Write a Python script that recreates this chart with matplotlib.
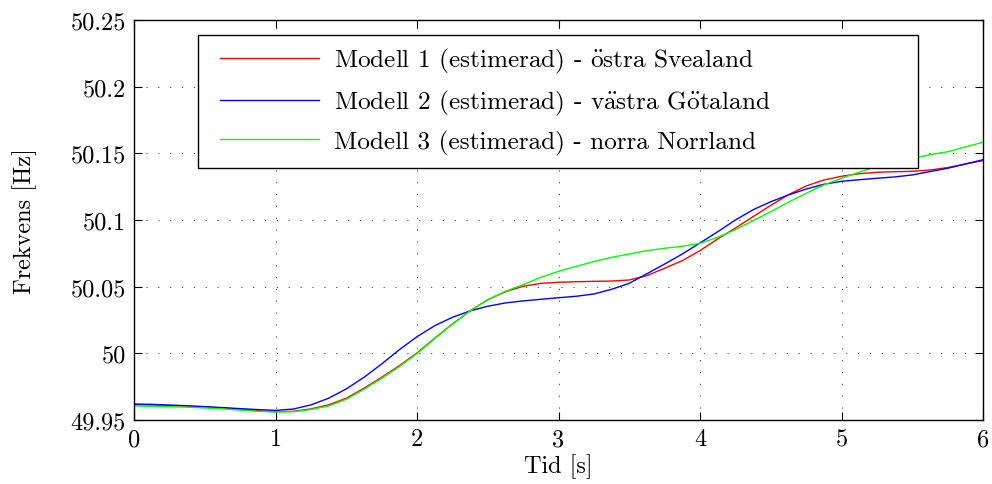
import matplotlib
matplotlib.use("Agg")
import matplotlib.pyplot as plt
from matplotlib.patches import Rectangle

plt.rcParams['font.family'] = ['cmr10', 'DejaVu Serif']
plt.rcParams['mathtext.fontset'] = 'cm'
plt.rcParams['axes.formatter.use_mathtext'] = True

# frequency response of the three estimated models, sampled every 0.125 s
tid = [0.0, 0.125, 0.25, 0.375, 0.5, 0.625, 0.75, 0.875,
       1.0, 1.125, 1.25, 1.375, 1.5, 1.625, 1.75, 1.875,
       2.0, 2.125, 2.25, 2.375, 2.5, 2.625, 2.75, 2.875,
       3.0, 3.125, 3.25, 3.375, 3.5, 3.625, 3.75, 3.875,
       4.0, 4.125, 4.25, 4.375, 4.5, 4.625, 4.75, 4.875,
       5.0, 5.125, 5.25, 5.375, 5.5, 5.625, 5.75, 5.875, 6.0]

modell1 = [49.9615, 49.9612, 49.9608, 49.9603, 49.9598, 49.9590, 49.9580, 49.9570,
           49.9562, 49.9565, 49.9583, 49.9613, 49.9663, 49.9738, 49.9820, 49.9907,
           50.0003, 50.0113, 50.0220, 50.0318, 50.0402, 50.0462, 50.0503, 50.0525,
           50.0533, 50.0537, 50.0540, 50.0542, 50.0550, 50.0583, 50.0638, 50.0695,
           50.0770, 50.0858, 50.0940, 50.1025, 50.1110, 50.1190, 50.1255, 50.1300,
           50.1328, 50.1347, 50.1358, 50.1362, 50.1365, 50.1375, 50.1393, 50.1420,
           50.1445]
modell2 = [49.9620, 49.9617, 49.9612, 49.9607, 49.9600, 49.9593, 49.9585, 49.9578,
           49.9572, 49.9582, 49.9613, 49.9663, 49.9733, 49.9820, 49.9920, 50.0027,
           50.0125, 50.0207, 50.0270, 50.0318, 50.0353, 50.0378, 50.0393, 50.0405,
           50.0417, 50.0428, 50.0445, 50.0480, 50.0525, 50.0597, 50.0670, 50.0745,
           50.0828, 50.0912, 50.1000, 50.1077, 50.1137, 50.1188, 50.1232, 50.1268,
           50.1290, 50.1302, 50.1313, 50.1323, 50.1338, 50.1363, 50.1388, 50.1420,
           50.1452]
modell3 = [49.9605, 49.9603, 49.9600, 49.9596, 49.9590, 49.9583, 49.9574, 49.9565,
           49.9560, 49.9562, 49.9578, 49.9605, 49.9655, 49.9730, 49.9812, 49.9900,
           49.9998, 50.0110, 50.0218, 50.0318, 50.0402, 50.0465, 50.0515, 50.0570,
           50.0615, 50.0652, 50.0688, 50.0720, 50.0745, 50.0770, 50.0788, 50.0803,
           50.0825, 50.0870, 50.0927, 50.0995, 50.1062, 50.1133, 50.1200, 50.1263,
           50.1313, 50.1358, 50.1403, 50.1435, 50.1462, 50.1490, 50.1512, 50.1548,
           50.1583]

etiketter = [r'Modell 1 (estimerad) - $\ddot{\mathrm{o}}$stra Svealand',
             r'Modell 2 (estimerad) - v$\ddot{\mathrm{a}}$stra G$\ddot{\mathrm{o}}$taland',
             'Modell 3 (estimerad) - norra Norrland']
xticks = [0, 1, 2, 3, 4, 5, 6]
yticks = [49.95, 50.0, 50.05, 50.1, 50.15, 50.2, 50.25]
ytick_labels = ['49.95', '50', '50.05', '50.1', '50.15', '50.2', '50.25']

fs = 17.5
fig = plt.figure(figsize=(9.92, 4.85), dpi=100)
ax = fig.add_axes([0.1351, 0.132, 0.991 - 0.1351, 0.9567 - 0.132])

ax.plot(tid, modell1, color=(1, 0, 0), lw=1.0, label=etiketter[0])
ax.plot(tid, modell2, color=(0, 0, 1), lw=1.0, label=etiketter[1])
ax.plot(tid, modell3, color=(0, 1, 0), lw=1.0, label=etiketter[2])

ax.set_xlim(0, 6)
ax.set_ylim(49.95, 50.25)
ax.set_xticks(xticks)
ax.set_xticklabels([str(t) for t in xticks])
ax.set_yticks(yticks)
ax.set_yticklabels(ytick_labels)
ax.tick_params(direction='in', length=6, width=0.8, top=True, right=True,
               labelsize=fs, pad=6)
ax.grid(True, color='0.25', lw=0.7, dashes=(1.2, 11))
for s in ax.spines.values():
    s.set_linewidth(1.0)

ax.set_xlabel('Tid [s]', fontsize=fs, labelpad=2)
ax.set_ylabel('Frekvens [Hz]', fontsize=fs, labelpad=24)

# legend box drawn separately so the entries can sit with a wider left margin
ax.add_patch(Rectangle((0.0754, 0.63), 0.848, 0.3325, transform=ax.transAxes,
                       facecolor='white', edgecolor='black', lw=1.0, zorder=4.5))
leg = ax.legend(loc='upper left', bbox_to_anchor=(0.088, 0.963, 0.83, 0.0),
                mode='expand', fontsize=18.2, handlelength=3.9, handletextpad=0.6,
                labelspacing=0.5, borderpad=0.45, frameon=False, borderaxespad=0)

fig.savefig('out.png', dpi=100)
